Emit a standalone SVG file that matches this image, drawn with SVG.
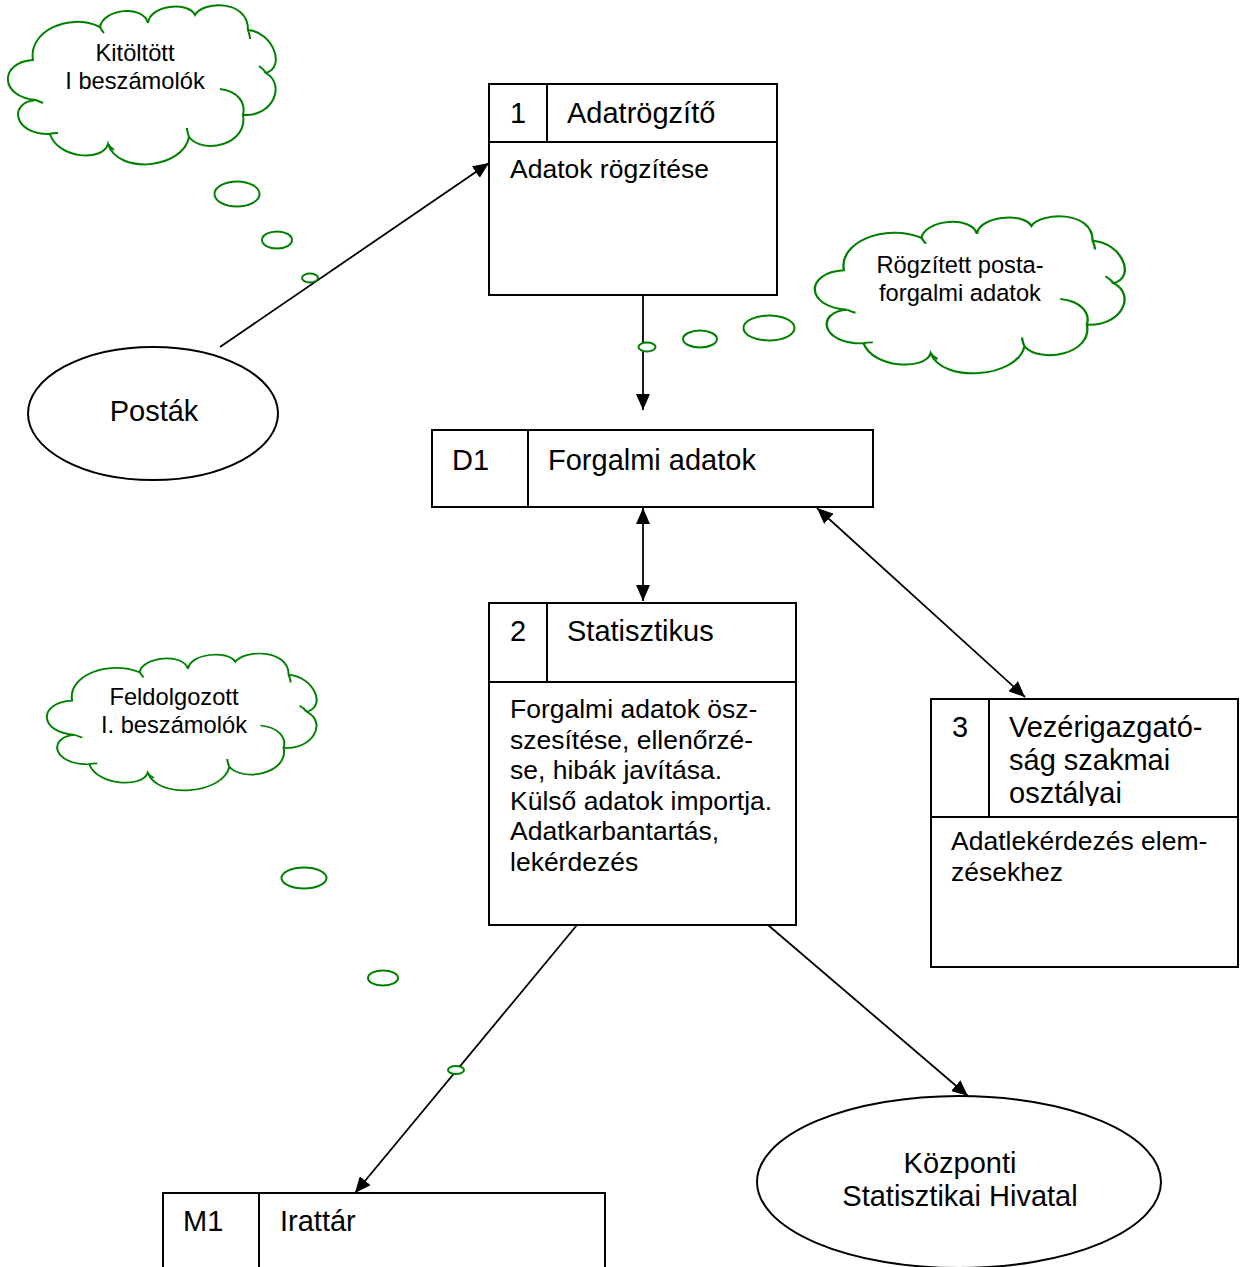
<svg xmlns="http://www.w3.org/2000/svg" width="1242" height="1267" viewBox="0 0 1242 1267">
<style>
.box{fill:#fff;stroke:#000;stroke-width:2}
.ln{stroke:#000;stroke-width:2;fill:none}
.t{font-family:"Liberation Sans",Arial,sans-serif;fill:#000}
.h{font-size:29px}
.b{font-size:26.5px}
.c{font-size:23.7px;text-anchor:middle}
.mid{text-anchor:middle}
.cloud{fill:#fff;stroke:#008000;stroke-width:2;vector-effect:non-scaling-stroke}
.crease{fill:none;stroke:#008000;stroke-width:2;vector-effect:non-scaling-stroke}
.bub{fill:#fff;stroke:#008000;stroke-width:2}
.conn{stroke:#000;stroke-width:1.8;fill:none}
</style>
<defs>
<marker id="ah" viewBox="0 0 16 14" refX="16" refY="7" markerWidth="16" markerHeight="14" markerUnits="userSpaceOnUse" orient="auto-start-reverse">
<path d="M0,0 L16,7 L0,14 z" fill="#000"/>
</marker>
<path id="cloudShape" d="M25,53 C20,25 60,5 92,20 C95,2 135,-3 140,16 C142,-2 180,-6 187,8 C195,-6 240,-8 240,23 C265,25 278,60 258,66 C278,78 265,110 235,108 C240,138 195,148 181,130 C175,162 110,168 100,137 C95,155 50,152 42,127 C5,128 0,95 28,93 C-9,90 -9,55 25,53 Z"/>
<path id="cloudCrease" d="M212,82 C230,84 238,96 235,108 M240,23 C241,26 242,29 242,32 M258,66 C256,63 254,61 251,59 M181,130 C180,127 179,124 179,121 M100,137 C101,139 103,141 106,143 M42,127 C44,126 47,126 50,126 M28,93 C30,94 32,95 35,96 M92,20 C93,22 94,24 96,26"/>
<clipPath id="clip3"><rect x="989" y="699" width="250" height="107"/></clipPath>
</defs>
<rect width="1242" height="1267" fill="#fff"/>

<g id="cloud-kitoltott">
<g transform="translate(8,7)">
<use href="#cloudShape" class="cloud"/>
<use href="#cloudCrease" class="crease"/>
</g>
<text class="t c" x="135" y="61">Kitöltött</text>
<text class="t c" x="135" y="89">I beszámolók</text>
</g>

<g id="cloud-rogzitett">
<g transform="translate(815,218) scale(1.157,0.987)">
<use href="#cloudShape" class="cloud"/>
<use href="#cloudCrease" class="crease"/>
</g>
<text class="t c" x="960" y="273">Rögzített posta-</text>
<text class="t c" x="960" y="301">forgalmi adatok</text>
</g>

<g id="cloud-feldolgozott">
<g transform="translate(47,655) scale(1.007,0.86)">
<use href="#cloudShape" class="cloud"/>
<use href="#cloudCrease" class="crease"/>
</g>
<text class="t c" x="174" y="705">Feldolgozott</text>
<text class="t c" x="174" y="733">I. beszámolók</text>
</g>

<g id="connectors">
<line class="conn" x1="220" y1="347" x2="489" y2="163" marker-end="url(#ah)"/>
<line class="conn" x1="643" y1="295" x2="643" y2="410" marker-end="url(#ah)"/>
<line class="conn" x1="643" y1="508" x2="643" y2="601" marker-start="url(#ah)" marker-end="url(#ah)"/>
<line class="conn" x1="817" y1="508" x2="1025" y2="697" marker-start="url(#ah)" marker-end="url(#ah)"/>
<line class="conn" x1="577" y1="925" x2="355" y2="1193" marker-end="url(#ah)"/>
<line class="conn" x1="768" y1="925" x2="968" y2="1096" marker-end="url(#ah)"/>
</g>

<g id="bubbles">
<ellipse class="bub" cx="237" cy="194" rx="22.5" ry="12.5"/>
<ellipse class="bub" cx="277" cy="240" rx="15" ry="8.5"/>
<ellipse class="bub" cx="310" cy="278" rx="8" ry="4.5" stroke-width="1.5"/>
<ellipse class="bub" cx="647" cy="347" rx="8.5" ry="4.5" stroke-width="1.5"/>
<ellipse class="bub" cx="700" cy="339" rx="17" ry="8.5"/>
<ellipse class="bub" cx="769" cy="328" rx="25.5" ry="12.5"/>
<ellipse class="bub" cx="304" cy="878" rx="22.5" ry="10.5"/>
<ellipse class="bub" cx="383" cy="978" rx="15" ry="7.5"/>
<ellipse class="bub" cx="456" cy="1070" rx="8" ry="4" stroke-width="1.5"/>
</g>

<g id="node-postak">
<ellipse cx="153" cy="413.5" rx="125" ry="66.5" fill="#fff" stroke="#000" stroke-width="2"/>
<text class="t h mid" x="154" y="421">Posták</text>
</g>

<g id="node-1">
<rect class="box" x="489" y="84" width="288" height="211"/>
<line class="ln" x1="489" y1="142" x2="777" y2="142"/>
<line class="ln" x1="547" y1="84" x2="547" y2="142"/>
<text class="t h mid" x="518" y="123">1</text>
<text class="t h" x="567" y="123">Adatrögzítő</text>
<text class="t b" x="510" y="178">Adatok rögzítése</text>
</g>

<g id="node-d1">
<rect class="box" x="432" y="430" width="441" height="77"/>
<line class="ln" x1="528" y1="430" x2="528" y2="507"/>
<text class="t h" x="452" y="470">D1</text>
<text class="t h" x="548" y="470">Forgalmi adatok</text>
</g>

<g id="node-2">
<rect class="box" x="489" y="603" width="307" height="322"/>
<line class="ln" x1="489" y1="682" x2="796" y2="682"/>
<line class="ln" x1="547" y1="603" x2="547" y2="682"/>
<text class="t h mid" x="518" y="641">2</text>
<text class="t h" x="567" y="641">Statisztikus</text>
<text class="t b" x="510" y="718">Forgalmi adatok ösz-</text>
<text class="t b" x="510" y="748.5">szesítése, ellenőrzé-</text>
<text class="t b" x="510" y="779">se, hibák javítása.</text>
<text class="t b" x="510" y="809.5">Külső adatok importja.</text>
<text class="t b" x="510" y="840">Adatkarbantartás,</text>
<text class="t b" x="510" y="870.5">lekérdezés</text>
</g>

<g id="node-3">
<rect class="box" x="931" y="699" width="307" height="268"/>
<line class="ln" x1="931" y1="817" x2="1238" y2="817"/>
<line class="ln" x1="989" y1="699" x2="989" y2="817"/>
<text class="t h mid" x="960" y="737">3</text>
<g clip-path="url(#clip3)">
<text class="t h" x="1009" y="737">Vezérigazgató-</text>
<text class="t h" x="1009" y="770">ság szakmai</text>
<text class="t h" x="1009" y="803">osztályai</text>
</g>
<text class="t b" x="951" y="850">Adatlekérdezés elem-</text>
<text class="t b" x="951" y="881">zésekhez</text>
</g>

<g id="node-m1">
<rect class="box" x="163" y="1193" width="442" height="90"/>
<line class="ln" x1="259" y1="1193" x2="259" y2="1267"/>
<text class="t h" x="183" y="1231">M1</text>
<text class="t h" x="280" y="1231">Irattár</text>
</g>

<g id="node-ksh">
<ellipse cx="959" cy="1182" rx="202" ry="86" fill="#fff" stroke="#000" stroke-width="2"/>
<text class="t h mid" x="960" y="1173">Központi</text>
<text class="t h mid" x="960" y="1206">Statisztikai Hivatal</text>
</g>
</svg>
